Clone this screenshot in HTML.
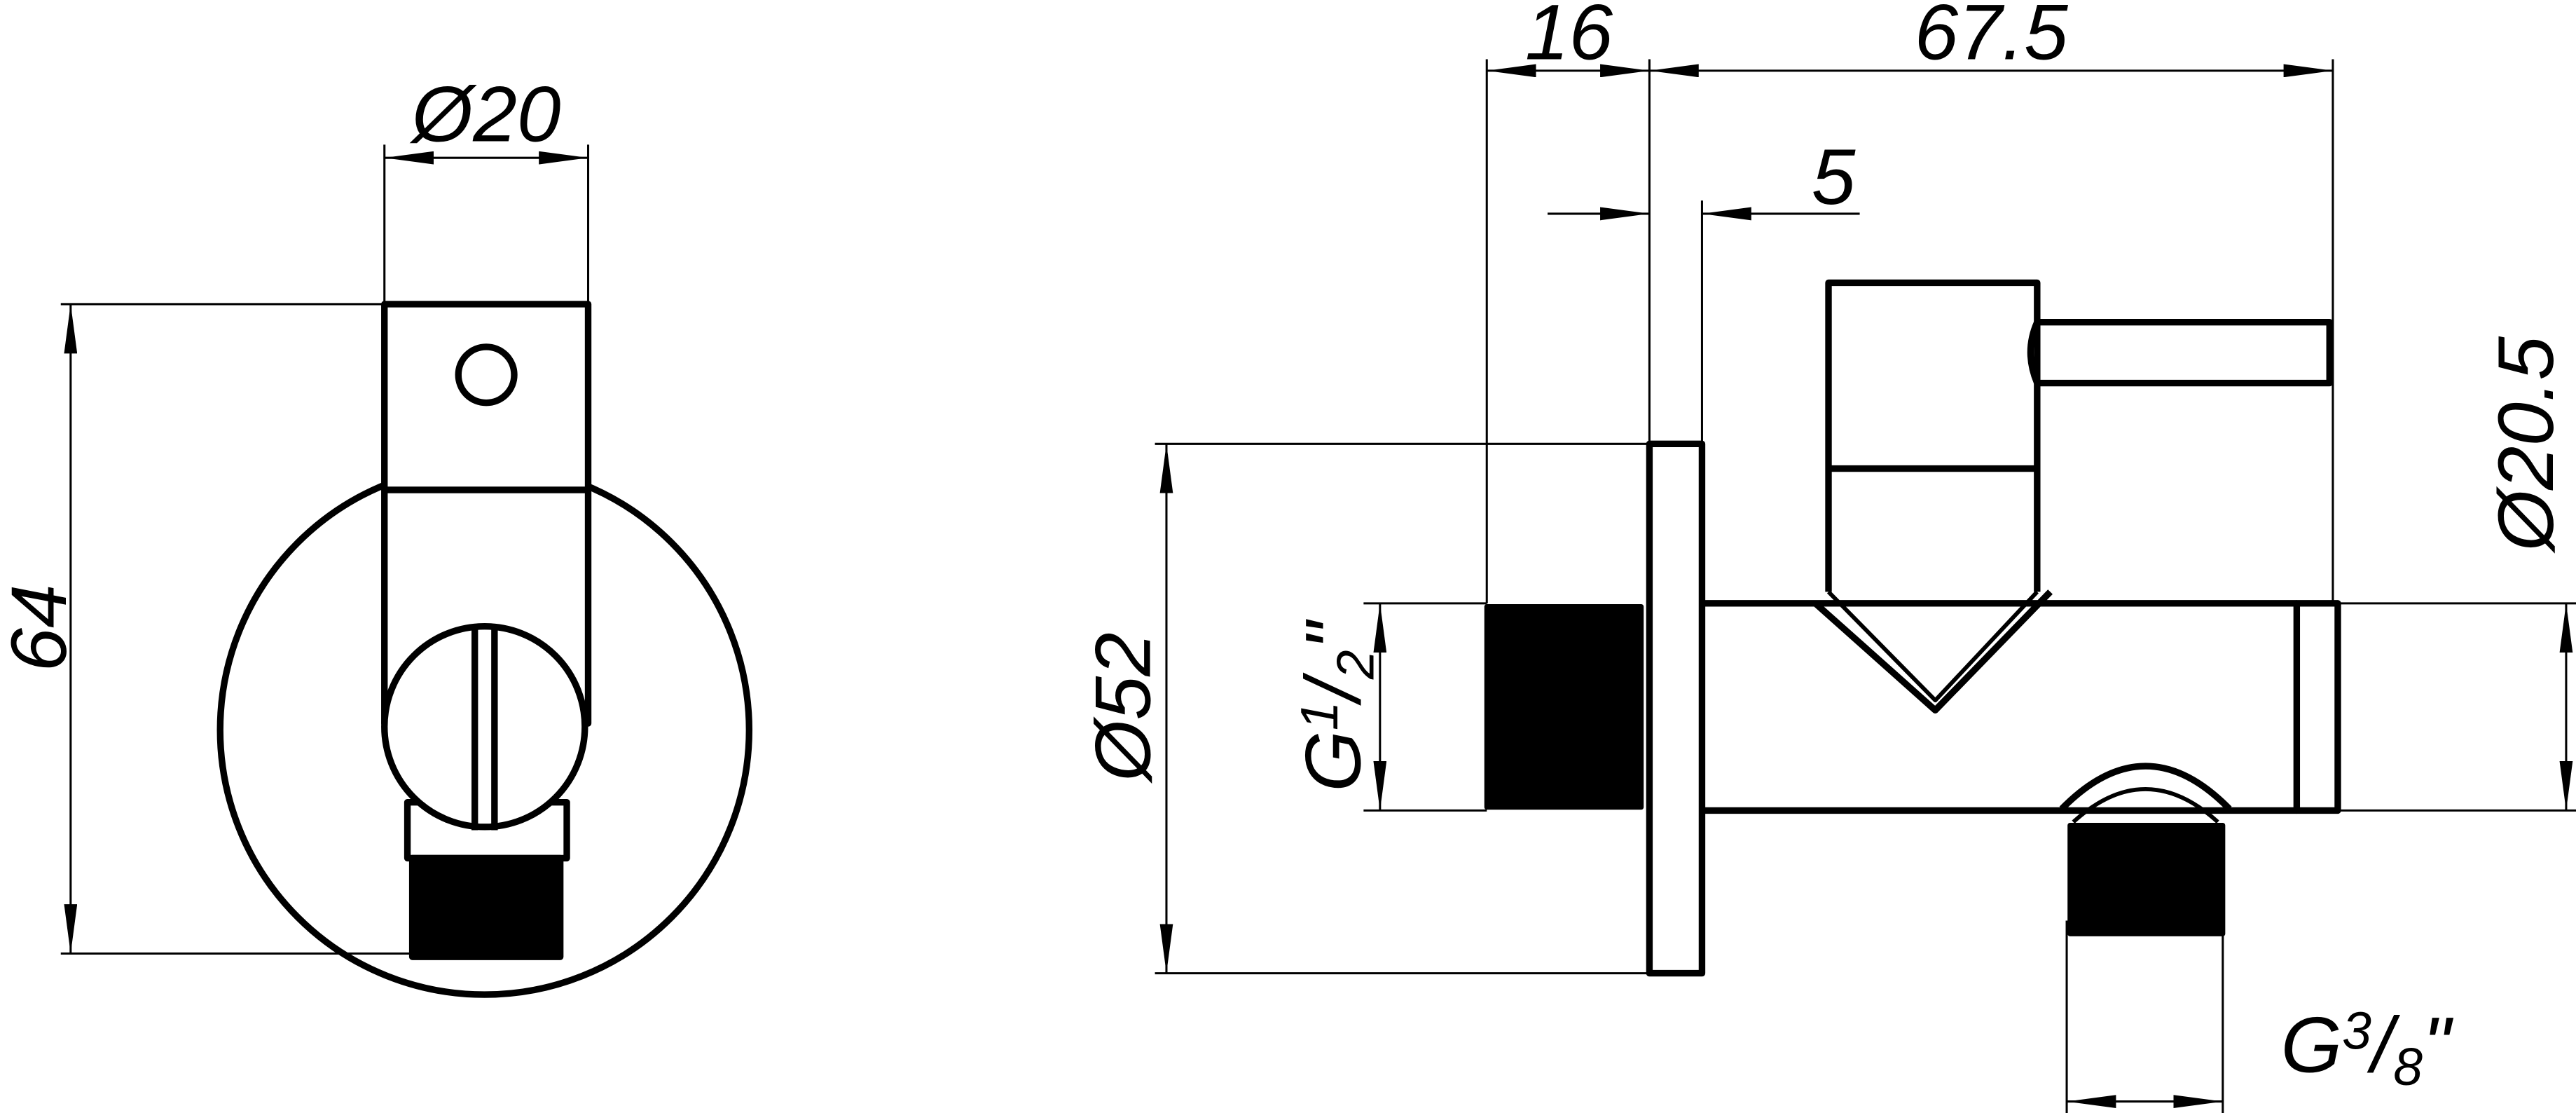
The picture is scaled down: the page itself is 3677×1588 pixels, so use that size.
<!DOCTYPE html>
<html><head><meta charset="utf-8"><style>html,body{margin:0;padding:0;background:#fff}svg{display:block}</style></head><body>
<svg width="3677" height="1588" viewBox="0 0 1568 677" preserveAspectRatio="none" xmlns="http://www.w3.org/2000/svg">
<defs>
<marker id="a" viewBox="0 0 30 8" refX="30" refY="4" markerWidth="30" markerHeight="8" markerUnits="userSpaceOnUse" orient="auto"><path d="M0,0 L30,4 L0,8 Z" fill="#000"/></marker>
<marker id="b" viewBox="0 0 30 8" refX="0" refY="4" markerWidth="30" markerHeight="8" markerUnits="userSpaceOnUse" orient="auto"><path d="M30,0 L0,4 L30,8 Z" fill="#000"/></marker>
</defs>
<g fill="none" stroke="#000" stroke-width="1.3">
<line x1="234" y1="88" x2="234" y2="185"/><line x1="358" y1="88" x2="358" y2="185"/>
<line x1="234" y1="96" x2="358" y2="96" marker-start="url(#b)" marker-end="url(#a)"/>
<line x1="37" y1="185" x2="234" y2="185"/><line x1="37" y1="580" x2="250" y2="580"/>
<line x1="43" y1="185" x2="43" y2="580" marker-start="url(#b)" marker-end="url(#a)"/>
<line x1="905" y1="36" x2="905" y2="367"/><line x1="1004" y1="36" x2="1004" y2="270"/><line x1="1420" y1="36" x2="1420" y2="367"/>
<line x1="905" y1="43" x2="1004" y2="43" marker-start="url(#b)" marker-end="url(#a)"/>
<line x1="1004" y1="43" x2="1420" y2="43" marker-start="url(#b)" marker-end="url(#a)"/>
<line x1="1036" y1="122" x2="1036" y2="270"/>
<line x1="942" y1="130" x2="1004" y2="130" marker-end="url(#a)"/>
<line x1="1132" y1="130" x2="1036" y2="130" marker-end="url(#a)"/>
<line x1="703" y1="270" x2="1004" y2="270"/><line x1="703" y1="592" x2="1004" y2="592"/>
<line x1="710" y1="270" x2="710" y2="592" marker-start="url(#b)" marker-end="url(#a)"/>
<line x1="830" y1="367" x2="905" y2="367"/><line x1="830" y1="493" x2="905" y2="493"/>
<line x1="840" y1="367" x2="840" y2="493" marker-start="url(#b)" marker-end="url(#a)"/>
<line x1="1423" y1="367" x2="1568" y2="367"/><line x1="1423" y1="493" x2="1568" y2="493"/>
<line x1="1562" y1="367" x2="1562" y2="493" marker-start="url(#b)" marker-end="url(#a)"/>
<line x1="1258" y1="560" x2="1258" y2="677"/><line x1="1353" y1="560" x2="1353" y2="677"/>
<line x1="1258" y1="670" x2="1353" y2="670" marker-start="url(#b)" marker-end="url(#a)"/>
</g>
<g fill="none" stroke="#000" stroke-width="4" stroke-linejoin="round">
<circle cx="295" cy="444" r="161"/>
<rect x="234" y="185" width="124" height="255" fill="#fff"/>
<line x1="234" y1="298" x2="358" y2="298"/>
<circle cx="296" cy="228" r="17"/>
<rect x="248" y="488" width="97" height="34" fill="#fff"/>
<circle cx="295" cy="442" r="61" fill="#fff"/>
<line x1="289" y1="380" x2="289" y2="505"/><line x1="301" y1="380" x2="301" y2="505"/>
<rect x="251" y="522" width="90" height="60" fill="#000"/>
<rect x="905" y="369" width="94" height="122" fill="#000" stroke-width="3"/>
<rect x="1004" y="270" width="32" height="322"/>
<line x1="1036" y1="367" x2="1398" y2="367"/><line x1="1036" y1="493" x2="1398" y2="493"/>
<rect x="1398" y="367" width="25" height="126"/>
<path d="M1113,360 L1113,172 L1240,172 L1240,360"/>
<line x1="1113" y1="285" x2="1240" y2="285"/>
<path d="M1240,196 L1418,196 L1418,233 L1240,233 Q1232,214 1240,196 Z"/>
<path d="M1105,367 L1178,432 L1248,360"/>
<path d="M1113,360 L1178,426 L1240,360" stroke-width="2.5"/>
<path d="M1255,492 Q1306,440 1357,492"/>
<path d="M1262,500 Q1306,460 1350,500" stroke-width="2.5"/>
<rect x="1260" y="502" width="93" height="66" fill="#000" stroke-width="3"/>
</g>
<g font-family="Liberation Sans, sans-serif" font-style="italic" font-size="48" fill="#000">
<text x="296" y="86" text-anchor="middle">Ø20</text>
<text x="955" y="36" text-anchor="middle">16</text>
<text x="1212" y="36" text-anchor="middle">67.5</text>
<text x="1116" y="124" text-anchor="middle">5</text>
<text transform="translate(40,382) rotate(-90)" text-anchor="middle">64</text>
<text transform="translate(700,430) rotate(-90)" text-anchor="middle">Ø52</text>
<text transform="translate(828,430) rotate(-90)" text-anchor="middle">G<tspan font-size="32" dy="-14">1</tspan><tspan dy="14">/</tspan><tspan font-size="32" dy="8">2</tspan><tspan dy="-8">"</tspan></text>
<text transform="translate(1554,270) rotate(-90)" text-anchor="middle">Ø20.5</text>
<text x="1440" y="652" text-anchor="middle">G<tspan font-size="32" dy="-14">3</tspan><tspan dy="14">/</tspan><tspan font-size="32" dy="8">8</tspan><tspan dy="-8">"</tspan></text>
</g>
</svg>
</body></html>
